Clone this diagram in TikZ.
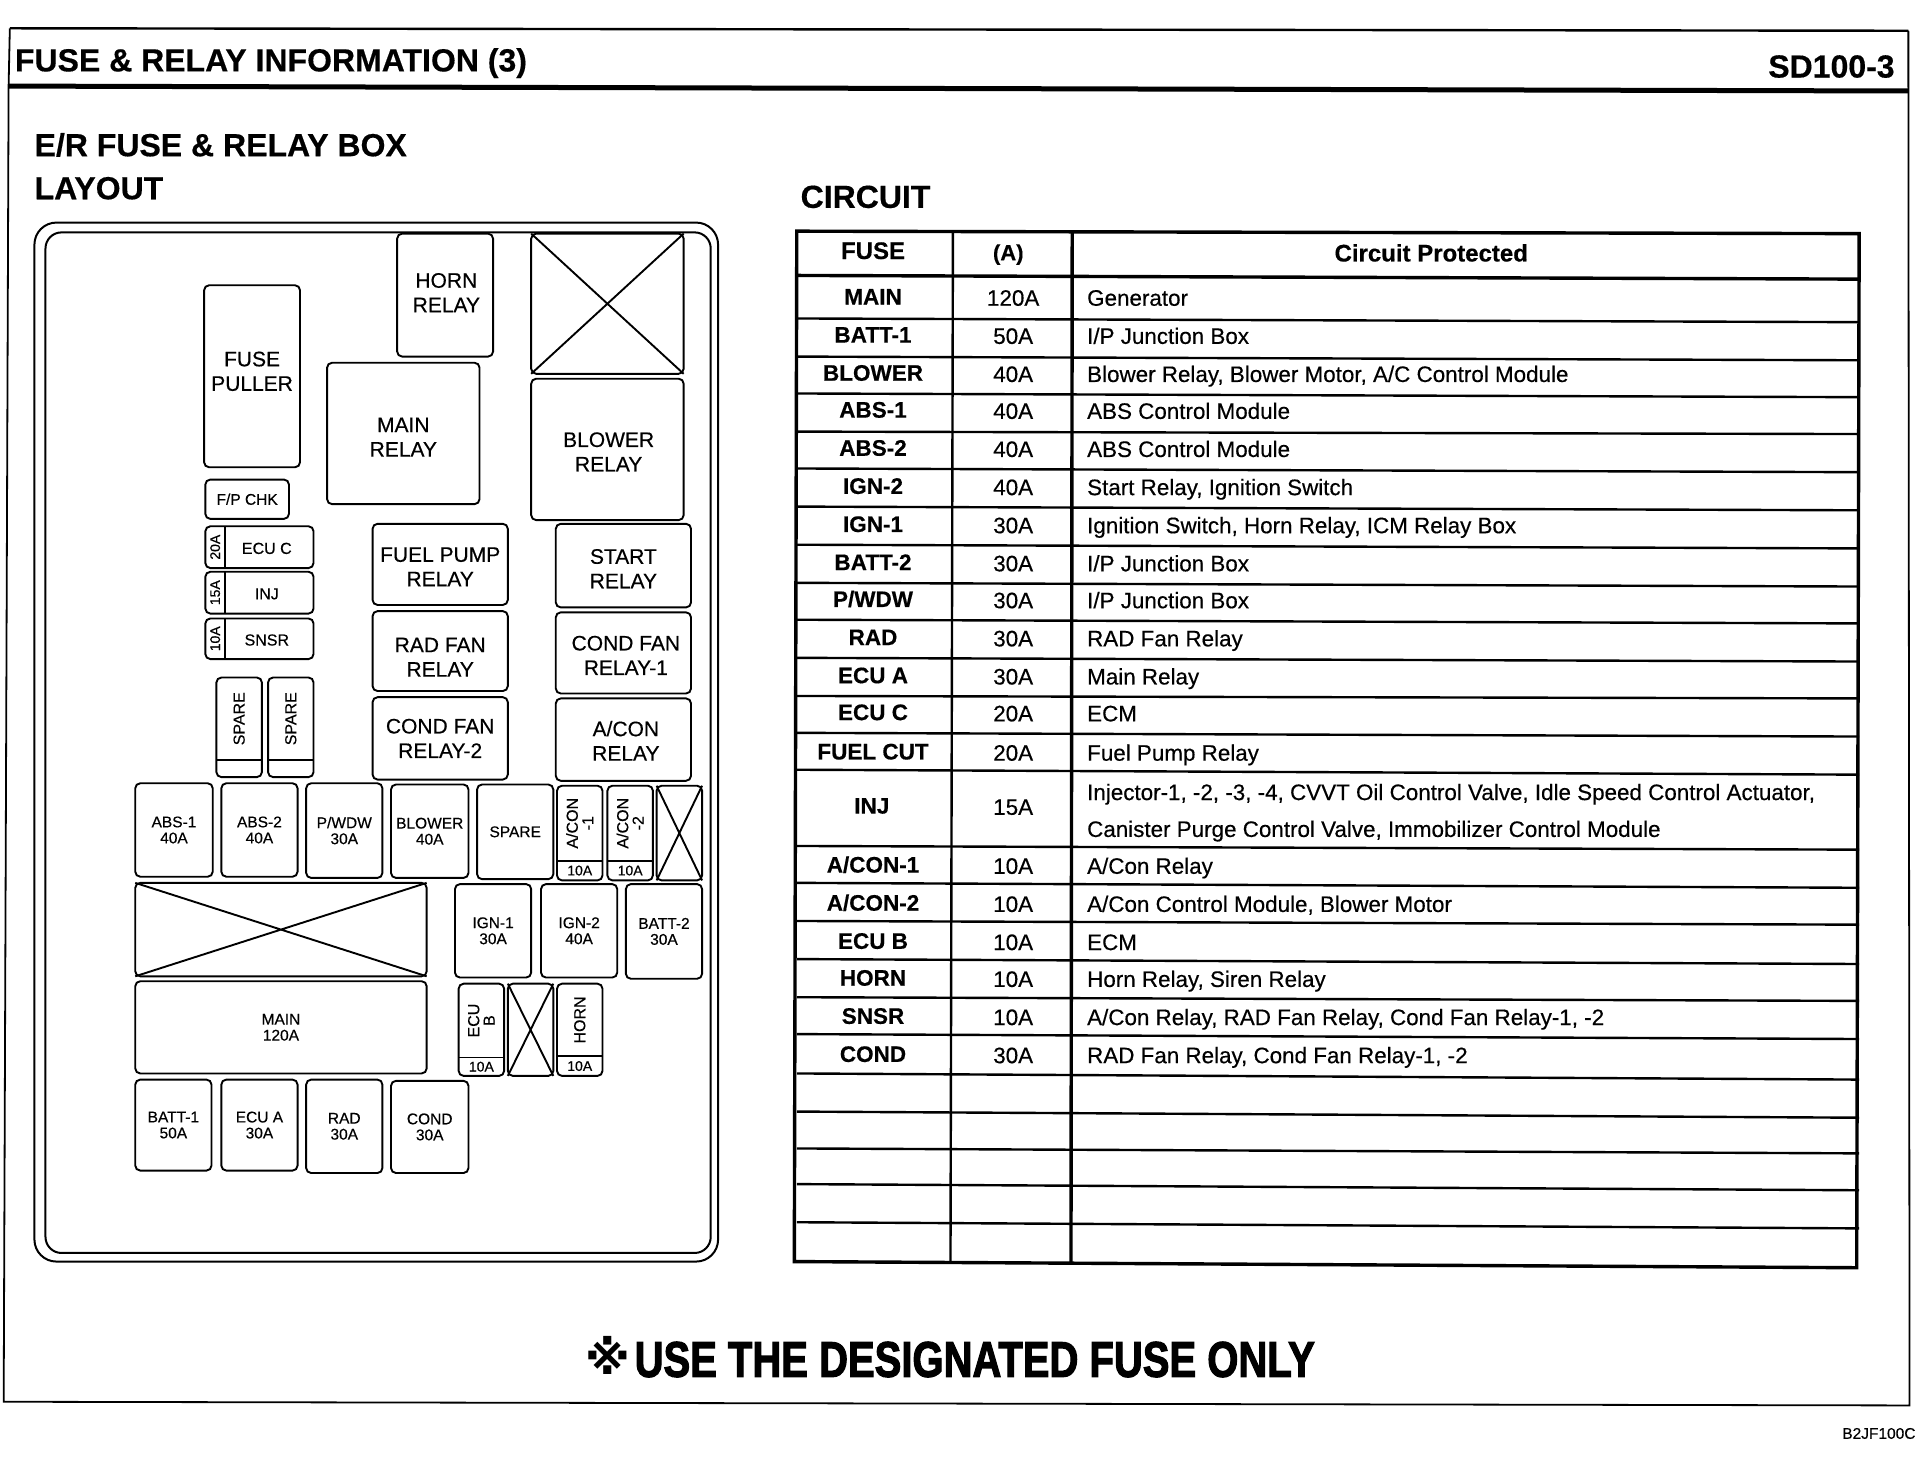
\documentclass[tikz,border=0pt]{standalone}
\usepackage{fontspec}
\setmainfont{Liberation Sans}[FakeBold=0.4]
\newfontfamily\symfont{DejaVu Sans}
\newfontfamily\heavyfont{Liberation Sans Bold}[FakeBold=2.5]
\usetikzlibrary{calc}
\newcommand{\fsz}[1]{\fontsize{#1}{#1}\selectfont}
\tikzset{
  boxline/.style={draw=black,line width=1.9pt,rounded corners=5pt},
  thinline/.style={draw=black,line width=1.9pt},
  tabline/.style={draw=black,line width=2.4pt},
  tabthick/.style={draw=black,line width=3.4pt},
  fusetext/.style={align=center,inner sep=0pt},
  headtext/.style={font=\bfseries\fsz{32},anchor=mid west,inner sep=0pt,yshift=-8.5pt},
  fcol/.style={font=\bfseries\fsz{22.5},anchor=mid,inner sep=0pt,yshift=-4.3pt},
  hcol/.style={font=\bfseries\fsz{24},anchor=mid,inner sep=0pt,yshift=-4.3pt},
  acol/.style={font=\fsz{22.4},anchor=mid,inner sep=0pt,yshift=-4.3pt},
  ccol/.style={font=\fsz{22.4},anchor=mid west,inner sep=0pt,align=left,yshift=-4.3pt},
  relaytext/.style={font=\fontsize{21}{24.5}\selectfont,align=center,inner sep=0pt},
  fusefont/.style={font=\fontsize{15.5}{16}\selectfont,align=center,inner sep=0pt},
  vertfont/.style={font=\fontsize{16}{15.5}\selectfont,align=center,inner sep=0pt,rotate=90},
}
% [label offset] name x1 y1 x2 y2 text
\newcommand{\relaybox}[7][0,0]{\draw[boxline] (#3,#4) rectangle (#5,#6);
  \node[relaytext] (#2) at ($($(#3,#4)!.5!(#5,#6)$)+(#1)$) {#7};}
\newcommand{\fusebox}[6]{\draw[boxline] (#2,#3) rectangle (#4,#5);
  \node[fusefont] (#1) at ($(#2,#3)!.5!(#4,#5)$) {#6};}
\newcommand{\crossbox}[4]{\draw[boxline] (#1,#2) rectangle (#3,#4);
  \draw[thinline] (#1,#2) -- (#3,#4) (#1,#4) -- (#3,#2);}
% side fuse: name x1 y1 x2 y2 divider-x label amp
\newcommand{\sidefuse}[8]{\draw[boxline] (#2,#3) rectangle (#4,#5);
  \draw[thinline] (#6,#3) -- (#6,#5);
  \node[font=\fsz{16},fusetext] (#1) at ($($(#6,#3)!.5!(#4,#5)$)+(-2,1)$) {#7};
  \node[font=\fsz{14},fusetext,rotate=90] (#1amp) at ($(#2,#3)!.5!(#6,#5)$) {#8};}
% vertical fuse: name x1 y1 x2 y2 divider-y label amp
\newcommand{\vertfuse}[8]{\draw[boxline] (#2,#3) rectangle (#4,#5);
  \draw[thinline] (#2,#6) -- (#4,#6);
  \node[vertfont] (#1) at ($(#2,#3)!.5!(#4,#6)$) {#7};
  \node[font=\fsz{14},fusetext] (#1amp) at ($(#2,#6)!.5!(#4,#5)$) {#8};}
\begin{document}
\begin{tikzpicture}[x=1.2296pt,y=-1.2296pt]
\useasboundingbox (0,0) rectangle (1568,1197.2);
\fill[white] (0,0) rectangle (1568,1197.2);
% page frame
\draw[tabline] (8,23) -- (1552,25);
\draw[draw=black,line width=5pt] (7,70) -- (1552,74);
\draw[draw=black,line width=1.8pt] (8,23) -- (7,70) -- (3,1140) -- (1553,1143) -- (1552,25);
\node[headtext] (title) at (12,49) {FUSE \& RELAY INFORMATION (3)};
\node[font=\bfseries\fsz{32},anchor=mid east,inner sep=0pt,yshift=-8.5pt] (code) at (1541,54) {SD100-3};
\node[headtext] (sub1) at (28,118) {E/R FUSE \& RELAY BOX};
\node[headtext] (sub2) at (28,153) {LAYOUT};
\node[headtext] (circ) at (651,160) {CIRCUIT};
% layout frame
\draw[draw=black,line width=2pt,rounded corners=22pt] (28,181) rectangle (584,1026);
\draw[draw=black,line width=2pt,rounded corners=16pt] (37,189) rectangle (578,1019);
% relays
\relaybox[1,-2]{horn}{323}{190}{401}{290}{HORN\\RELAY}
\crossbox{432}{190}{556}{304}
\draw[boxline] (166,232) rectangle (244,380);
\node[relaytext] (puller) at (205,302) {FUSE\\PULLER};
\relaybox[0,3]{mainr}{266}{295}{390}{410}{MAIN\\RELAY}
\relaybox[1,2]{blowr}{432}{308}{556}{423}{BLOWER\\RELAY}
\relaybox[0,2]{fuelp}{303}{426}{413}{492}{FUEL PUMP\\RELAY}
\relaybox[0,2.5]{start}{452}{426}{562}{494}{START\\RELAY}
\relaybox[0,5]{radf}{303}{497}{413}{562}{RAD FAN\\RELAY}
\relaybox[2,2]{cond1}{452}{498}{562}{564}{COND FAN\\RELAY-1}
\relaybox[0,0]{cond2}{303}{567}{413}{634}{COND FAN\\RELAY-2}
\relaybox[2,1]{acon}{452}{568}{562}{635}{A/CON\\RELAY}
% small fuses
\fusebox{fpchk}{167}{390}{235}{422}{F/P CHK}
\sidefuse{ecuc}{167}{428}{255}{462}{183}{ECU C}{20A}
\sidefuse{inj}{167}{465}{255}{499}{183}{INJ}{15A}
\sidefuse{snsr}{167}{503}{255}{536}{183}{SNSR}{10A}
\vertfuse{sp1}{176}{551}{213}{632}{618}{SPARE}{}
\vertfuse{sp2}{218}{551}{255}{632}{618}{SPARE}{}
% row 1
\fusebox{abs1}{110}{637}{173}{713}{ABS-1\\40A}
\fusebox{abs2}{180}{637}{242}{713}{ABS-2\\40A}
\fusebox{pwdw}{249}{637}{311}{714}{P/WDW\\30A}
\fusebox{blow}{318}{638}{381}{714}{BLOWER\\40A}
\fusebox{spare}{388}{638}{450}{715}{SPARE}
\vertfuse{ac1}{453}{639}{490}{716}{700}{A/CON\\-1}{10A}
\vertfuse{ac2}{494}{639}{531}{716}{700}{A/CON\\-2}{10A}
\crossbox{534}{639}{571}{716}
% row 2
\crossbox{110}{718}{347}{794}
\fusebox{ign1}{370}{719}{432}{795}{IGN-1\\30A}
\fusebox{ign2}{440}{719}{502}{795}{IGN-2\\40A}
\fusebox{batt2}{509}{719}{571}{796}{BATT-2\\30A}
% row 3
\fusebox{mainf}{110}{798}{347}{873}{MAIN\\120A}
\vertfuse{ecub}{373}{800}{410}{875}{860}{ECU\\B}{10A}
\crossbox{413}{800}{450}{875}
\vertfuse{hornf}{453}{800}{490}{875}{859}{HORN}{10A}
% row 4
\fusebox{batt1}{110}{878}{172}{952}{BATT-1\\50A}
\fusebox{ecua}{180}{878}{242}{952}{ECU A\\30A}
\fusebox{rad}{249}{878}{311}{954}{RAD\\30A}
\fusebox{cond}{318}{879}{381}{954}{COND\\30A}
% table grid
\foreach \a/\b in {259/262,290/293,320/323,351/353,381/384,412/415,443/446,474/477,504/507,535/538,566/568,596/599,626/630,688/691,718/722,749/752,780/784,811/814,841/845,873/878,904/909,934/938,963/968,994/999}
  \draw[tabline] (648,\a) -- (1512,\b);
\draw[tabthick] (648,224) -- (1512,227);
\draw[tabthick] (648,188) -- (1512,190) -- (1510,1031) -- (646,1026) -- cycle;
\draw[tabline] (775,188) -- (773,1027);
\draw[tabthick] (872,189) -- (871,1028);
% table text
\node[hcol] (hf) at (710,205) {FUSE};
\node[hcol,font=\bfseries\fsz{22}] (ha) at (820,206) {(A)};
\node[hcol] (hc) at (1164,207) {Circuit Protected};
\foreach \n/\yy/\f/\am/\c in {
 r1/242/MAIN/120A/Generator,
 r2/273/BATT-1/50A/I\slash P Junction Box,
 r3/304/BLOWER/40A/{Blower Relay, Blower Motor, A\slash C Control Module},
 r4/334/ABS-1/40A/ABS Control Module,
 r5/365/ABS-2/40A/ABS Control Module,
 r6/396/IGN-2/40A/{Start Relay, Ignition Switch},
 r7/427/IGN-1/30A/{Ignition Switch, Horn Relay, ICM Relay Box},
 r8/458/BATT-2/30A/I\slash P Junction Box,
 r9/488/P\slash WDW/30A/I\slash P Junction Box,
 r10/519/RAD/30A/RAD Fan Relay,
 r11/550/ECU A/30A/Main Relay,
 r12/580/ECU C/20A/ECM,
 r13/612/FUEL CUT/20A/Fuel Pump Relay,
 r15/704/A\slash CON-1/10A/A\slash Con Relay,
 r16/735/A\slash CON-2/10A/{A\slash Con Control Module, Blower Motor},
 r17/766/ECU B/10A/ECM,
 r18/796/HORN/10A/{Horn Relay, Siren Relay},
 r19/827/SNSR/10A/{A\slash Con Relay, RAD Fan Relay, Cond Fan Relay-1, -2},
 r20/858/COND/30A/{RAD Fan Relay, Cond Fan Relay-1, -2}}
{
  \node[fcol] (f\n) at (710,\yy) {\f};
  \node[acol] (a\n) at (824,\yy+1) {\am};
  \node[ccol] (c\n) at (884,\yy+1) {\c};
}
\node[fcol] (fr14) at (709,656) {INJ};
\node[acol] (ar14) at (824,657) {15A};
\node[ccol] (cr14a) at (884,645) {Injector-1, -2, -3, -4, CVVT Oil Control Valve, Idle Speed Control Actuator,};
\node[ccol] (cr14b) at (884,675) {Canister Purge Control Valve, Immobilizer Control Module};
% footer
\node[font=\symfont\bfseries\fsz{46},inner sep=0pt,anchor=mid] (mark) at (494,1116) {※};
\node[font=\heavyfont\fsz{50},inner sep=0pt,anchor=mid west,yshift=-8pt] (warn) at (516,1111) {\scalebox{0.80}[1]{USE THE DESIGNATED FUSE ONLY}};
\node[font=\fsz{15.5},inner sep=0pt,anchor=mid east] (ref) at (1558,1168) {B2JF100C};
\end{tikzpicture}
\end{document}
